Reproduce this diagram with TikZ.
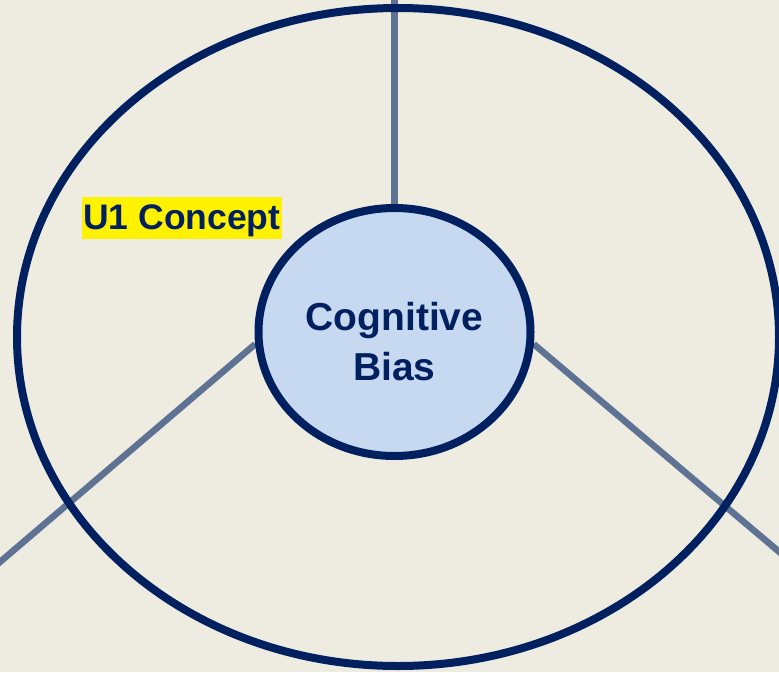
\documentclass[tikz,border=0pt]{standalone}
\usepackage{fontspec}
\setmainfont{Liberation Sans}
\usetikzlibrary{shapes.geometric,backgrounds}
\definecolor{bgtan}{HTML}{EEECE1}
\definecolor{navy}{HTML}{002060}
\definecolor{paleblue}{HTML}{C6D9F1}
\definecolor{spoke}{HTML}{5E7294}
\begin{document}
\begin{tikzpicture}[x=1pt,y=-1pt,
  ring/.style={ellipse, draw=navy, line width=8pt, inner sep=0pt},
  spokeline/.style={draw=spoke, line width=6.5pt},
  hub/.style={ring, fill=paleblue, minimum width=272pt, minimum height=248pt},
  hubtext/.style={text=navy, align=center, font=\bfseries\fontsize{39}{50}\selectfont},
  tag/.style={fill=yellow, text=navy, font=\bfseries\fontsize{35.5}{42}\selectfont,
    inner xsep=1.5pt, inner ysep=0pt, text height=32pt, text depth=9.7pt}]
\useasboundingbox (0,0) rectangle (779,672);
\node[ring, minimum width=762pt, minimum height=658pt] (outer) at (398,337) {};
\node[hub] (bias) at (394.5,332) {};
\node[hubtext] (biastext) at ([yshift=-10pt]bias.center) {Cognitive\\Bias};
\node[tag, anchor=base west] (concept) at (81.5,229.3) {U1 Concept};
\begin{scope}[on background layer]
  \fill[bgtan] (0,0) rectangle (779,672);
  \coordinate (topend) at (394.5,-5);
  \coordinate (leftend) at (-10,570.5);
  \coordinate (rightend) at (790,561);
  \draw[spokeline] (topend) -- (bias.north);
  \draw[spokeline] (bias.185) -- (leftend);
  \draw[spokeline] (bias.-5) -- (rightend);
\end{scope}
\end{tikzpicture}
\end{document}
